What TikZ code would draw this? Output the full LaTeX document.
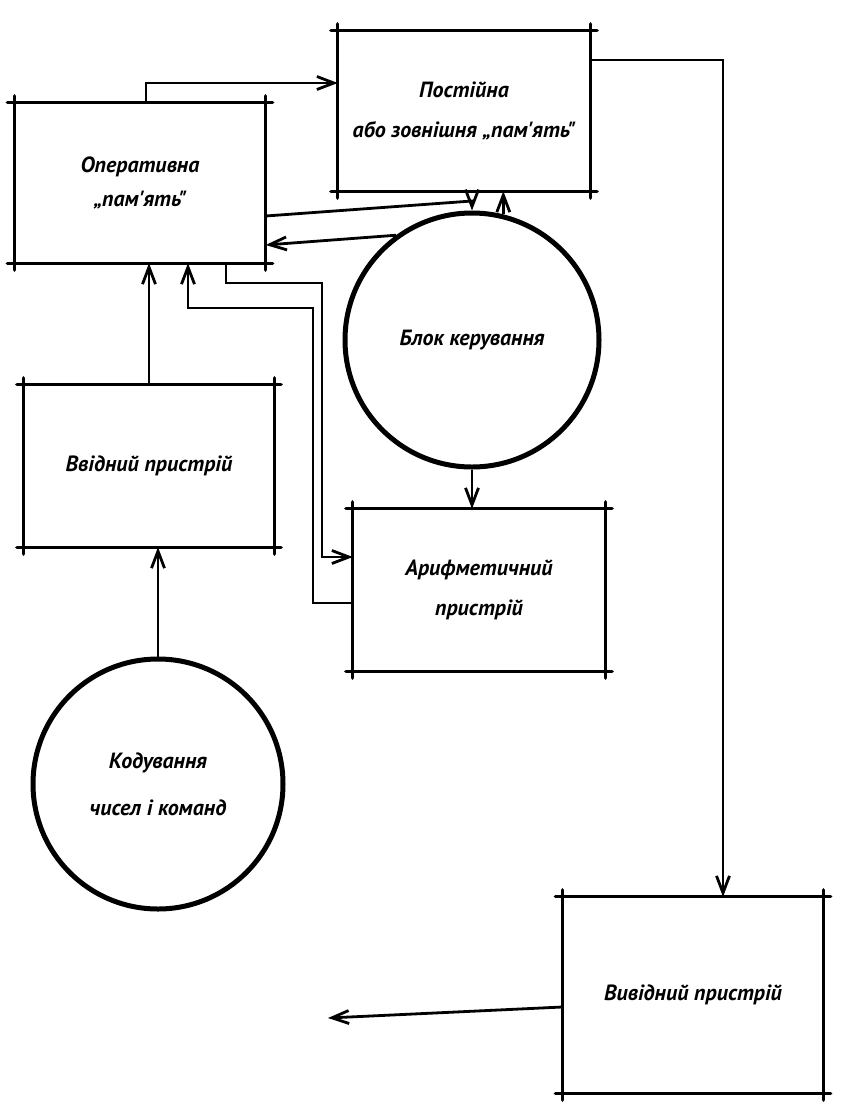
\documentclass[tikz,border=0pt]{standalone}
\usepackage{fontspec}
\newfontfamily\lblfont{PT Sans}
\usetikzlibrary{arrows.meta}

\begin{document}
\begin{tikzpicture}[
  x=1pt, y=-1pt,
  unit/.style={inner sep=0pt, align=center, minimum width=251pt, minimum height=160pt,
               font=\lblfont\bfseries\itshape\fontsize{22}{40}\selectfont},
  ring/.style={circle, draw, line width=5pt, inner sep=0pt, align=center,
               font=\lblfont\bfseries\itshape\fontsize{22}{40}\selectfont},
  edge/.style={line width=3.2pt, line cap=round, shorten <=-7pt, shorten >=-7pt},
  flow/.style={line width=2.8pt, -{Straight Barb[length=17pt, width=13pt]}},
]
\useasboundingbox (0,0) rectangle (848,1117);

% units of the machine
\node[unit] (op) at (140,183) {Оперативна\\[-6pt]„пам'ять"};
\node[unit, minimum width=252pt] (perm) at (464,111) {Постійна\\або зовнішня „пам'ять"};
\node[unit, minimum width=250pt, minimum height=162pt] (inp) at (149,466) {Ввідний пристрій};
\node[unit, minimum width=252pt, minimum height=162pt] (arith) at (479,590) {Арифметичний\\пристрій};
\node[unit, minimum width=261pt, minimum height=196pt] (outp) at (693,995) {Вивідний пристрій};
\node[ring, minimum size=254pt] (ctrl) at (472,340) {Блок керування};
\node[ring, minimum size=250pt] (code) at (158,784) {Кодування\\[7pt]чисел і команд};

% box sides run a little past the corners
\foreach \b in {op,perm,inp,arith,outp}{
  \draw[edge] (\b.north west) -- (\b.north east);
  \draw[edge] (\b.south west) -- (\b.south east);
  \draw[edge] (\b.north west) -- (\b.south west);
  \draw[edge] (\b.north east) -- (\b.south east);
}

% data and control paths
\draw[flow] ([xshift=6pt]op.north) |- ([yshift=28pt]perm.west);
\draw[flow] ([yshift=-33pt]op.east) -- (472,201) -- (ctrl.north);
\draw[flow] (ctrl.76) -- (ctrl.76 |- perm.south);
\draw[flow] (ctrl.126) -- ([yshift=-62pt]op.east);
\draw[flow] ([xshift=86pt]op.south) |- (322,283) |- ([yshift=33pt]arith.west);
\draw[flow] ([yshift=-13pt]arith.west) -| (313,308) -| ([xshift=48pt]op.south);
\draw[flow] (inp.north) -- (inp.north |- op.south);
\draw[flow] (code.north) -- (code.north |- inp.south);
\draw[flow] (ctrl.south) -- (ctrl.south |- arith.north);
\draw[flow] ([yshift=51pt]perm.east) -| ([xshift=30pt]outp.north);
\coordinate (exit) at (328,1018);
\draw[flow] ([yshift=-12pt]outp.west) -- (exit);

\end{tikzpicture}
\end{document}
